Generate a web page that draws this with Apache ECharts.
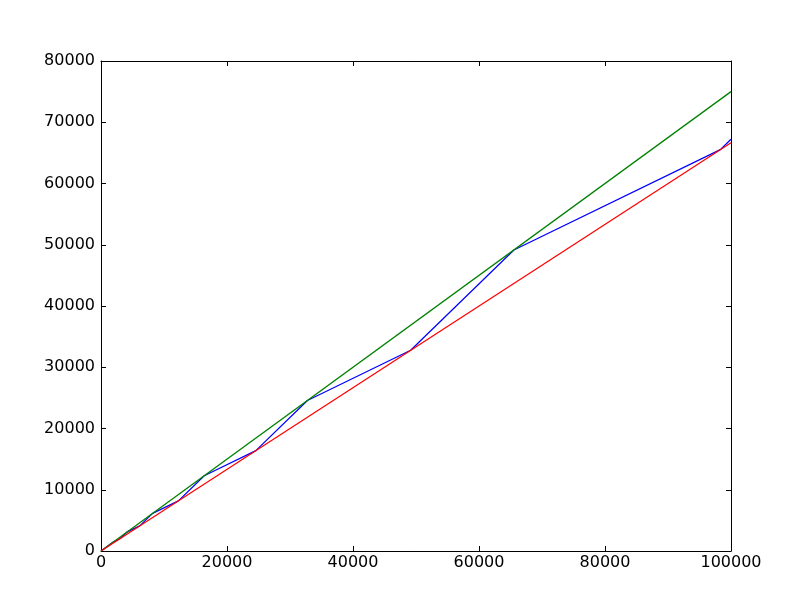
<!DOCTYPE html>
<html><head><meta charset="utf-8">
<script src="https://cdn.jsdelivr.net/npm/echarts@6/dist/echarts.min.js"></script>
<style>html,body{margin:0;padding:0;background:#fff}#c{width:812px;height:612px}</style>
</head><body><div id="c"></div>
<script>
const blueX = [0, 2048, 3072, 4096, 6144, 8192, 12288, 16384, 24576, 32768, 49152, 65536, 98304, 100000];
const blueY = [0, 1536, 2048, 3072, 4096, 6144, 8192, 12288, 16384, 24576, 32768, 49152, 65536, 67232];
const greenX = [0, 100000];
const greenY = [0, 75000];
const redX = [0, 100000];
const redY = [0, 66667];
const xTicks = [0, 20000, 40000, 60000, 80000, 100000];
const yTicks = [0, 10000, 20000, 30000, 40000, 50000, 60000, 70000, 80000];

const pairs = (xs, ys) => xs.map((x, i) => [x, ys[i]]);
const font = {fontFamily: 'DejaVu Sans', fontSize: 16, color: '#000', formatter: v => String(v)};
const axLine = {show: true, onZero: false, lineStyle: {color: '#000', width: 1}};
const tick = {show: true, inside: true, length: 5, lineStyle: {color: '#000', width: 1}};

const chart = echarts.init(document.getElementById('c'), null, {renderer: 'canvas'});
chart.setOption({
  animation: false,
  backgroundColor: '#fff',
  grid: {left: 101, top: 61, width: 630, height: 490, containLabel: false},
  xAxis: [
    {type: 'value', position: 'bottom', min: xTicks[0], max: xTicks[xTicks.length-1], interval: 20000,
     axisLine: axLine, axisTick: tick, splitLine: {show: false},
     axisLabel: Object.assign({margin: 4}, font)},
    {type: 'value', position: 'top', min: xTicks[0], max: xTicks[xTicks.length-1], interval: 20000,
     axisLine: axLine, axisTick: tick, splitLine: {show: false}, axisLabel: {show: false}}
  ],
  yAxis: [
    {type: 'value', position: 'left', min: yTicks[0], max: yTicks[yTicks.length-1], interval: 10000,
     axisLine: axLine, axisTick: tick, splitLine: {show: false},
     axisLabel: Object.assign({margin: 6}, font)},
    {type: 'value', position: 'right', min: yTicks[0], max: yTicks[yTicks.length-1], interval: 10000,
     axisLine: axLine, axisTick: tick, splitLine: {show: false}, axisLabel: {show: false}}
  ],
  series: [
    {type: 'line', data: pairs(blueX, blueY), showSymbol: false, lineStyle: {color: '#0000ff', width: 1.25}, itemStyle: {color: '#0000ff'}},
    {type: 'line', data: pairs(greenX, greenY), showSymbol: false, lineStyle: {color: '#008000', width: 1.25}, itemStyle: {color: '#008000'}},
    {type: 'line', data: pairs(redX, redY), showSymbol: false, lineStyle: {color: '#ff0000', width: 1.25}, itemStyle: {color: '#ff0000'}}
  ]
});
</script></body></html>
